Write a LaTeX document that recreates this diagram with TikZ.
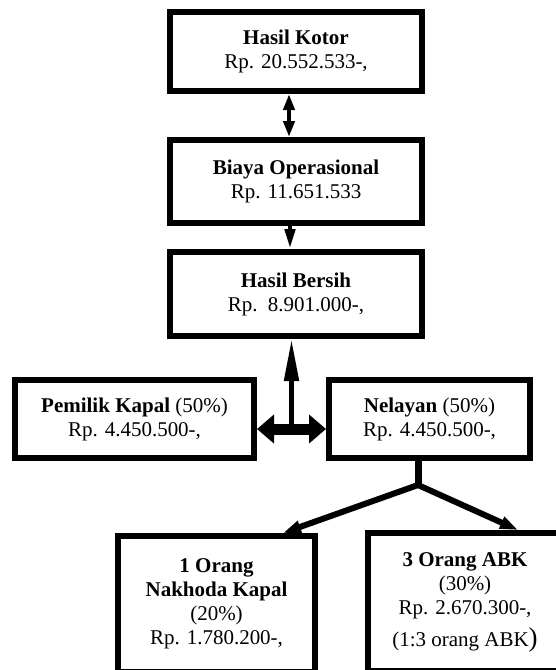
\documentclass[tikz,border=0pt]{standalone}
\usepackage{fontspec}
\setmainfont{Liberation Serif}
\usetikzlibrary{arrows.meta,calc}

\begin{document}
\begin{tikzpicture}[x=1pt,y=-1pt,line width=6pt,
  kotak/.style={draw,line width=6pt,align=center,inner sep=0pt,font=\fontsize{21}{24}\selectfont},
  ujung/.style={-{Triangle[length=18pt,width=12pt]}}]
  \useasboundingbox (0,0) rectangle (556,670);
  \clip (0,0) rectangle (556,670);
  % kotak hasil
  \node[kotak,minimum width=252pt,minimum height=79pt] (kotor) at (296,51.5){\textbf{Hasil Kotor}\\Rp. 20.552.533-,};
  \node[kotak,minimum width=252pt,minimum height=83pt] (biaya) at (296,181.5){\textbf{Biaya Operasional}\\Rp. 11.651.533};
  \node[kotak,minimum width=252pt,minimum height=84pt] (bersih) at (296,294){\textbf{Hasil Bersih}\\Rp.\ \ 8.901.000-,};
  % pembagian 50:50
  \node[kotak,minimum width=239pt,minimum height=78pt] (pemilik) at (134.5,419){\textbf{Pemilik Kapal} (50\%)\\Rp. 4.450.500-,};
  \node[kotak,minimum width=201pt,minimum height=78pt] (nelayan) at (429.5,419){\textbf{Nelayan} (50\%)\\Rp. 4.450.500-,};
  % bagian nelayan
  \node[kotak,minimum width=197pt,minimum height=136pt] (nakhoda) at (216.5,604){\textbf{1 Orang}\\\textbf{Nakhoda Kapal}\\(20\%)\\Rp. 1.780.200-,};
  \node[kotak,minimum width=194pt,minimum height=138pt] (abk) at (465,602){\textbf{3 Orang ABK}\\(30\%)\\Rp. 2.670.300-,\\[8pt](1:3 orang ABK{\fontsize{27}{27}\selectfont)}};
  % panah
  \draw[line width=4.5pt,{Triangle[length=16pt,width=11pt]}-{Triangle[length=16pt,width=11pt]}] ([xshift=-7pt]kotor.south) -- ([xshift=-7pt]biaya.north);
  \draw[line width=4.5pt,-{Triangle[length=20pt,width=10pt]}] ([xshift=-6pt]biaya.south) -- ([xshift=-6pt]bersih.north);
  \coordinate (tengah) at ($(pemilik.east)!0.5!(nelayan.west)+(0,10)$);
  \draw[line width=11pt,{Triangle[length=17pt,width=28pt]}-{Triangle[length=17pt,width=28pt]}] ($(pemilik.east)+(0,10)$) -- ($(nelayan.west)+(0,10)$);
  \draw[line width=5pt,-{Triangle[length=42pt,width=14pt]}] (tengah) -- (tengah |- bersih.south);
  \coordinate (cabang) at (418,485);
  \draw[line width=7pt] (cabang |- nelayan.south) -- (cabang);
  \draw[ujung] (cabang) -- ([xshift=-35pt]nakhoda.north east);
  \draw[ujung] (cabang) -- ([xshift=53pt]abk.north);
\end{tikzpicture}
\end{document}
